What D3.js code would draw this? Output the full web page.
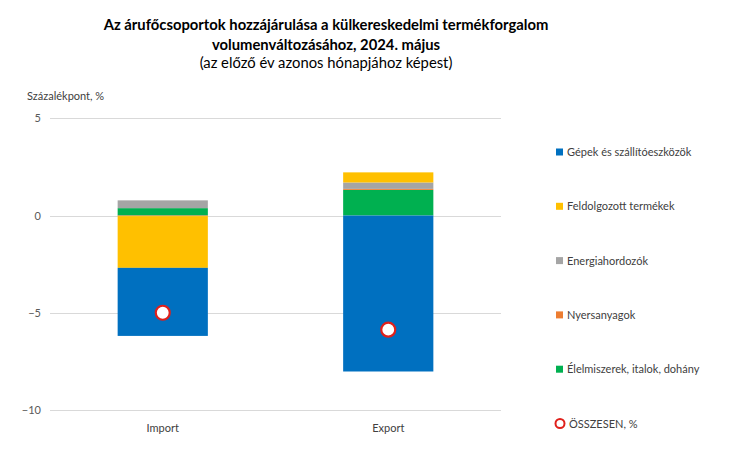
<!DOCTYPE html>
<html><head><meta charset="utf-8">
<script src="https://cdn.jsdelivr.net/npm/d3@7"></script>
<style>body{margin:0;background:#fff;}svg{display:block;}</style>
</head><body>
<svg id="c" width="730" height="476"></svg>
<script>
const categories = ["Import", "Export"];
const seriesNames = ["Élelmiszerek, italok, dohány", "Nyersanyagok", "Energiahordozók", "Feldolgozott termékek", "Gépek és szállítóeszközök"];
const elelmiszer = [0.38, 1.32];
const nyersanyag = [-0.03, 0.05];
const energia = [0.40, 0.33];
const feldolgozott = [-2.66, 0.52];
const gepek = [-3.50, -8.02];
const osszesen = [-5.0, -5.87];
const yTicks = [5, 0, -5, -10];
const legendOrder = ["Gépek és szállítóeszközök", "Feldolgozott termékek", "Energiahordozók", "Nyersanyagok", "Élelmiszerek, italok, dohány"];
const colors = {"Gépek és szállítóeszközök":"#0070c0","Feldolgozott termékek":"#ffc000","Energiahordozók":"#a5a5a5","Nyersanyagok":"#ed7d31","Élelmiszerek, italok, dohány":"#00b050"};

const seriesVals = [elelmiszer, nyersanyag, energia, feldolgozott, gepek];
const rows = categories.map((c,i)=>{const r={cat:c}; seriesNames.forEach((s,j)=>r[s]=seriesVals[j][i]); return r;});

const svg = d3.select("#c");
const font = "Lato, 'Open Sans', sans-serif";
const x = d3.scaleBand().domain(categories).range([50, 501]).paddingInner(0.6).paddingOuter(0.3);
const y = d3.scaleLinear().domain([-10, 5]).range([410, 118.3]);

// title
const t = svg.append("g").attr("font-family", font).attr("text-anchor","middle").attr("fill","#000");
t.append("text").attr("x",326).attr("y",30).attr("font-size",14.8).attr("font-weight","bold").text("Az árufőcsoportok hozzájárulása a külkereskedelmi termékforgalom");
t.append("text").attr("x",326).attr("y",50).attr("font-size",14.8).attr("font-weight","bold").text("volumenváltozásához, 2024. május");
t.append("text").attr("x",326).attr("y",68).attr("font-size",14.8).text("(az előző év azonos hónapjához képest)");

svg.append("text").attr("x",27).attr("y",100).attr("font-family",font).attr("font-size",11).attr("fill","#404040").text("Százalékpont, %");

// grid
svg.append("g").selectAll("line").data(yTicks).join("line")
  .attr("x1",50).attr("x2",501).attr("y1",d=>Math.round(y(d))+0.5).attr("y2",d=>Math.round(y(d))+0.5)
  .attr("stroke","#d9d9d9").attr("stroke-width",1);
const yAxis = d3.axisLeft(y).tickValues(yTicks).tickSize(0).tickPadding(0).tickFormat(d=>d<0?"\u2212"+Math.abs(d):d);
const ya = svg.append("g").attr("transform","translate(41,0)").call(yAxis);
ya.select(".domain").remove();
ya.selectAll("text").attr("font-family",font).attr("font-size",11).attr("fill","#595959");

// bars
const stack = d3.stack().keys(seriesNames).offset(d3.stackOffsetDiverging);
const stacked = stack(rows);
svg.append("g").selectAll("g").data(stacked).join("g").attr("fill",d=>colors[d.key])
  .selectAll("rect").data(d=>d).join("rect")
  .attr("x",d=>x(d.data.cat)).attr("width",x.bandwidth())
  .attr("y",d=>y(Math.max(d[0],d[1]))).attr("height",d=>Math.abs(y(d[0])-y(d[1])));

// total circles
svg.append("g").selectAll("circle").data(categories).join("circle")
  .attr("cx",c=>x(c)+x.bandwidth()/2).attr("cy",(c,i)=>y(osszesen[i])).attr("r",7)
  .attr("fill","#fff").attr("stroke","#e0201b").attr("stroke-width",2.2);

// x axis labels
const xa = svg.append("g").attr("transform","translate(0,410)").call(d3.axisBottom(x).tickSize(0).tickPadding(14));
xa.select(".domain").remove();
xa.selectAll("text").attr("font-family",font).attr("font-size",11).attr("fill","#404040");

// legend
const lg = svg.append("g").attr("font-family",font).attr("font-size",11).attr("fill","#404040");
const ly0 = 152, lstep = 54.3;
legendOrder.forEach((s,i)=>{
  const yy = ly0 + i*lstep;
  lg.append("rect").attr("x",556).attr("y",yy-3.5).attr("width",7).attr("height",7).attr("fill",colors[s]);
  lg.append("text").attr("x",567).attr("y",yy+4).text(s);
});
const yy = ly0 + 5*lstep;
lg.append("circle").attr("cx",560).attr("cy",yy).attr("r",4.5).attr("fill","#fff").attr("stroke","#e0201b").attr("stroke-width",2);
lg.append("text").attr("x",569).attr("y",yy+4).text("ÖSSZESEN, %");
</script>
</body></html>
